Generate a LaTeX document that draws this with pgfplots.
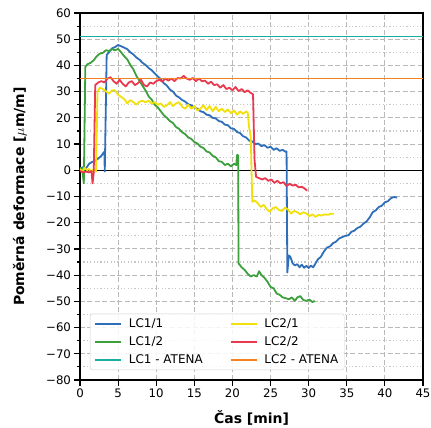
\documentclass[border=0pt]{standalone}
\usepackage{pgfplots}
\pgfplotsset{compat=1.18}
\usepackage{fontspec}
\setmainfont{DejaVu Sans}
\definecolor{cblue}{HTML}{2F6FBA}
\definecolor{cgreen}{HTML}{3CA03C}
\definecolor{cteal}{HTML}{1AADA4}
\definecolor{cyellow}{HTML}{F2E00A}
\definecolor{cred}{HTML}{E8394E}
\definecolor{corange}{HTML}{F5821F}
\begin{document}
\begin{tikzpicture}
\useasboundingbox (-80bp,-48bp) rectangle (351bp,380bp);
\begin{axis}[
  scale only axis, width=343bp, height=367bp,
  xmin=0, xmax=45, ymin=-80, ymax=60,
  xtick={0,5,...,45}, ytick={-80,-70,...,60},
  yticklabels={−80,−70,−60,−50,−40,−30,−20,−10,0,10,20,30,40,50,60},
  minor ytick={-75,-65,...,55},
  tick align=outside, xtick pos=bottom, ytick pos=left,
  major tick length=5.5bp, minor tick length=3.2bp,
  every tick/.style={black, line width=1.2bp},
  tick label style={font=\fontsize{11.8}{14}\selectfont},
  /pgf/number format/assume math mode=true,
  grid=both,
  major grid style={gray!55, dash pattern=on 5bp off 2.5bp, line width=1.1bp},
  minor grid style={gray!45, dash pattern=on 1.2bp off 2.2bp, line width=1.1bp},
  axis line style={line width=1.3bp},
  xlabel={\bfseries Čas [min]},
  ylabel={\bfseries Poměrná deformace [$\mu$m/m]},
  label style={font=\fontsize{14}{16}\selectfont},
  xlabel style={at={(axis description cs:0.5,-0.1035)}, anchor=center},
  ylabel style={at={(axis description cs:-0.175,0.5)}, anchor=center, rotate=0},
  legend columns=2,
  legend cell align=left,
  legend style={at={(0.029,0.027)}, anchor=south west, draw=gray!35, rounded corners=2.5bp,
    fill=white, fill opacity=0.85, text opacity=1, font=\fontsize{12}{14}\selectfont,
    /tikz/every even column/.append style={column sep=25bp}, row sep=3.5bp,
    inner xsep=4bp, inner ysep=3bp},
  legend image code/.code={\draw[#1, line width=1.8bp] (0bp,0bp) -- (26bp,0bp); \path (31bp,0bp);},
  every axis plot/.append style={line width=1.8bp, line join=round},
]
\addplot[black, line width=1.3bp, forget plot] coordinates {(0,0)(45,0)};
\addplot[cblue, forget plot] coordinates {
(0,0.5)(0.4,1.2)(0.8,0.8)(1.2,2.5)(1.6,3.2)(2.0,3.6)(2.4,4.5)(2.8,5.5)(3.1,6.8)(3.2,7)(3.25,-0.5)(3.5,44)(3.8,45)(4.2,46.5)(4.6,47)(5.0,47.8)(5.4,47.3)(5.8,46.8)(6.2,46.2)(6.6,45.0)(7.0,44.2)(7.4,43.0)(7.8,42.2)(8.2,41.0)(8.6,40.2)(9.0,39.0)(9.4,38.2)(9.8,37)(10.2,35.8)(10.6,34.8)(11.0,33.2)(11.4,32.3)(11.8,30.8)(12.2,30)(12.6,28.5)(13.0,27.8)(13.4,26.8)(13.8,26.2)(14.2,25.2)(14.6,24.8)(15.0,24.0)(15.4,23.5)(15.8,22.5)(16.2,22.2)(16.6,21.2)(17.0,21)(17.4,20)(17.8,19.8)(18.2,18.8)(18.6,18.5)(19.0,17.4)(19.4,17.2)(19.8,16)(20.2,15.8)(20.6,14.6)(21.0,14.2)(21.4,13)(21.8,12.5)(22.2,11.3)(22.6,11)(23.0,10)(23.4,10.2)(23.8,9.2)(24.2,9.6)(24.6,8.6)(25.0,9)(25.4,7.8)(25.8,8.4)(26.2,7.4)(26.6,7.8)(27.0,7)(27.1,7.2)(27.2,-39)(27.4,-32.5)(27.6,-33)(27.9,-35.5)(28.2,-36.3)(28.5,-35.8)(28.8,-37)(29.1,-36)(29.4,-37.2)(29.7,-36.4)(30.0,-37.3)(30.3,-36.4)(30.6,-37)(30.9,-35.5)(31.2,-34)(31.6,-33)(32.0,-31)(32.4,-29.5)(32.8,-29)(33.2,-27.8)(33.6,-27.2)(34.0,-26)(34.4,-25.5)(34.8,-25)(35.2,-24.8)(35.6,-23.5)(36.0,-23)(36.4,-22)(36.8,-21.5)(37.2,-20.3)(37.6,-19.5)(38.0,-18)(38.4,-16)(38.8,-15.3)(39.2,-14)(39.6,-13.5)(40.0,-12.2)(40.4,-11.8)(40.8,-10.6)(41.2,-10.2)(41.6,-10.4)};
\addplot[cgreen, forget plot] coordinates {
(0,1)(0.3,0.5)(0.5,-5)(0.7,39.5)(1.0,40.5)(1.4,41)(1.8,42)(2.2,43.5)(2.6,44.5)(3.0,44.8)(3.4,45.8)(3.8,45.5)(4.2,46.2)(4.6,45.8)(5.0,46.3)(5.4,45)(5.8,43.5)(6.2,42.3)(6.6,40.2)(7.0,38.5)(7.4,36)(7.8,34.2)(8.2,32.2)(8.6,30.5)(9.0,28.2)(9.4,27)(9.8,25)(10.2,24)(10.6,22.5)(11.0,21)(11.4,20)(11.8,18.8)(12.2,18)(12.6,16.5)(13.0,15.8)(13.4,14.5)(13.8,13.8)(14.2,12.5)(14.6,12)(15.0,10.8)(15.4,10.2)(15.8,9)(16.2,8.5)(16.6,7.2)(17.0,6.8)(17.4,5.5)(17.8,5)(18.2,3.5)(18.6,3.2)(19.0,2)(19.4,2.5)(19.8,1.5)(20.2,2.5)(20.5,2)(20.6,5.8)(20.75,5.8)(20.8,-35.5)(21.2,-37)(21.6,-38)(22.0,-39.5)(22.4,-40.5)(22.8,-40)(23.2,-40.5)(23.5,-38.5)(23.8,-40)(24.2,-41)(24.6,-42.5)(25.0,-44.5)(25.4,-45)(25.8,-47)(26.2,-47.5)(26.6,-48.5)(27.0,-48.8)(27.4,-49.2)(27.8,-48.5)(28.2,-49.8)(28.5,-48.5)(28.9,-48)(29.3,-49.5)(29.7,-49.8)(30.1,-49.3)(30.5,-50.3)(30.8,-49.8)};
\addplot[cteal, forget plot] coordinates {(0,51)(45,51)};
\addplot[cyellow, forget plot] coordinates {
(0,0.5)(0.3,-0.5)(0.6,1)(0.9,0)(1.2,0.5)(1.5,-0.8)(1.8,0.5)(2.1,-0.5)(2.3,30)(2.6,31.5)(3.0,31)(3.4,30.2)(3.8,29.2)(4.2,30.5)(4.6,30.5)(5.0,28.8)(5.4,28)(5.8,27.2)(6.2,25.5)(6.6,26.8)(7.0,26)(7.4,25)(7.8,26.2)(8.2,26.5)(8.6,26)(9.0,26.5)(9.4,25.5)(9.8,26)(10.2,25)(10.6,25.5)(11.0,24.2)(11.4,24.8)(11.8,26)(12.2,24.5)(12.6,25.5)(13.0,26)(13.4,24.2)(13.8,23.5)(14.2,25)(14.6,23.5)(15.0,24.5)(15.4,22.8)(15.8,23.5)(16.2,24.8)(16.6,23)(17.0,24.5)(17.4,22.5)(17.8,24.2)(18.2,22.5)(18.6,23.5)(19.0,22.2)(19.4,23.2)(19.8,21.8)(20.2,22.8)(20.6,21.2)(21.0,22.5)(21.4,21.5)(21.8,22.5)(22.0,22)(22.2,16)(22.4,13)(22.6,-12)(22.9,-11.5)(23.3,-12.5)(23.7,-14)(24.1,-13.2)(24.5,-14.8)(24.9,-15.8)(25.3,-14.5)(25.7,-14)(26.1,-15.2)(26.5,-15.5)(26.9,-14.2)(27.3,-15)(27.7,-16.5)(28.1,-15.5)(28.5,-16)(28.9,-16.8)(29.3,-16)(29.7,-16.5)(30.1,-17.5)(30.5,-16.8)(30.9,-17.8)(31.3,-17)(31.7,-17.3)(32.1,-16.8)(32.5,-17)(32.9,-16.6)(33.3,-16.6)};
\addplot[cred, forget plot] coordinates {
(0,-0.3)(0.4,-0.8)(0.8,-0.5)(1.2,-0.8)(1.5,-0.3)(1.65,-5)(1.8,-1)(2.0,32.5)(2.4,33.5)(2.8,34)(3.2,33.5)(3.6,35)(4.0,35.5)(4.4,34)(4.8,33)(5.2,34.5)(5.6,33)(6.0,32)(6.4,33.5)(6.8,34)(7.2,32.5)(7.6,33.2)(8.0,34.5)(8.4,32.5)(8.8,32)(9.2,33.5)(9.6,33)(10.0,34)(10.4,34.5)(10.8,33.8)(11.2,35)(11.6,34.2)(12.0,35)(12.4,34)(12.8,35.2)(13.2,35)(13.6,36)(14.0,35)(14.4,34.5)(14.8,35.2)(15.2,34)(15.6,35)(16.0,34)(16.4,34.2)(16.8,33)(17.2,33.8)(17.6,32.5)(18.0,32.8)(18.4,31.5)(18.8,32.5)(19.2,31)(19.6,31.5)(20.0,30.5)(20.4,31.8)(20.8,30.2)(21.2,31)(21.6,29.8)(22.0,30.5)(22.4,29.5)(22.7,29)(22.9,4)(23.1,-2.5)(23.5,-3)(23.9,-3.5)(24.3,-3)(24.7,-4)(25.1,-3.5)(25.5,-4.8)(25.9,-4)(26.3,-5)(26.7,-4.5)(27.1,-6)(27.5,-5.2)(27.9,-5.8)(28.3,-5.5)(28.7,-6.5)(29.1,-6.3)(29.5,-7)(29.8,-7.8)};
\addplot[corange, forget plot] coordinates {(0,35)(45,35)};
\addlegendimage{cblue}\addlegendentry{LC1/1}
\addlegendimage{cyellow}\addlegendentry{LC2/1}
\addlegendimage{cgreen}\addlegendentry{LC1/2}
\addlegendimage{cred}\addlegendentry{LC2/2}
\addlegendimage{cteal}\addlegendentry{LC1 - ATENA}
\addlegendimage{corange}\addlegendentry{LC2 - ATENA}
\end{axis}
\end{tikzpicture}
\end{document}
